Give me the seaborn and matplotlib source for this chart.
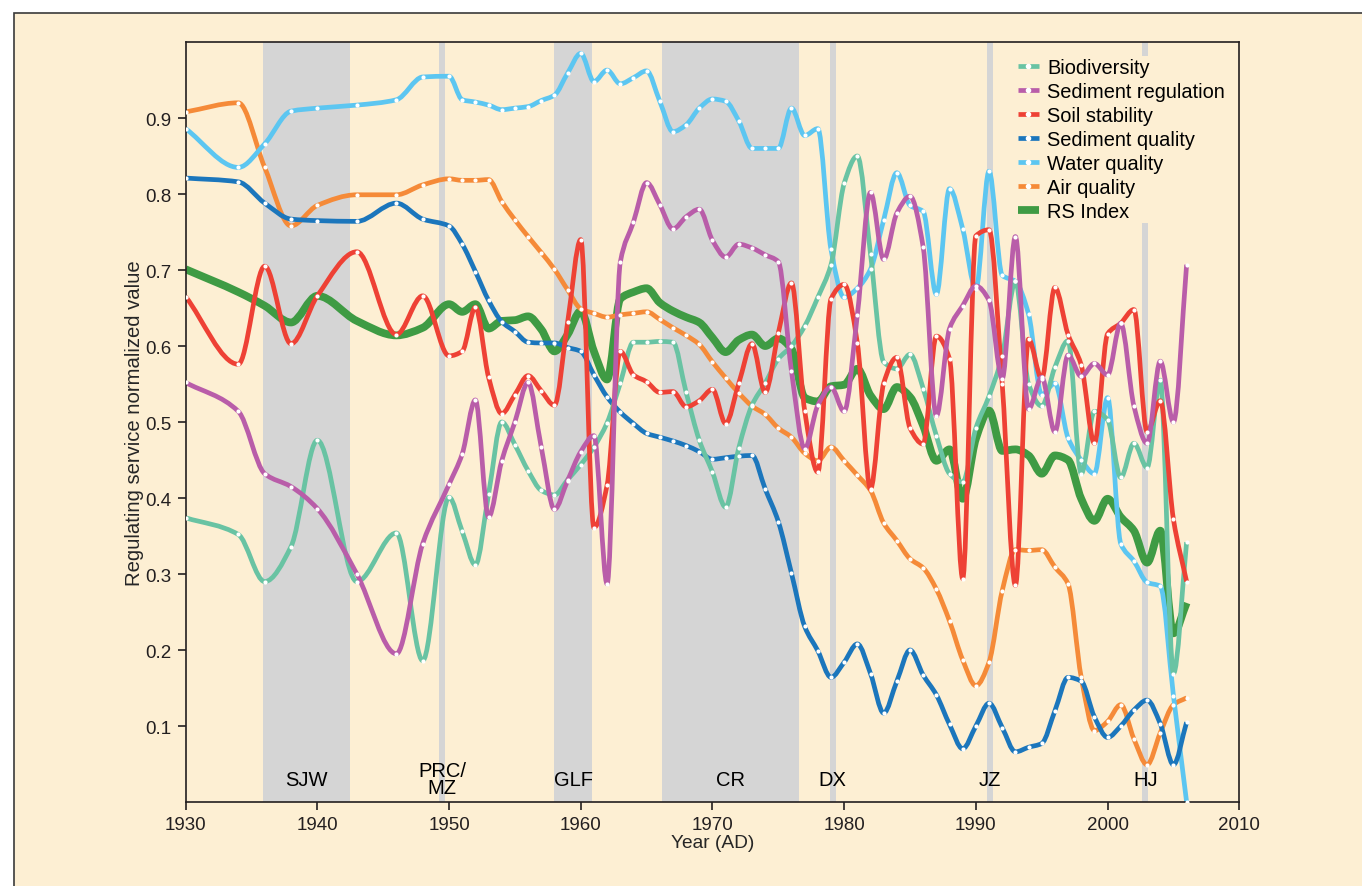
import numpy as np
import pandas as pd
import matplotlib
matplotlib.use("Agg")
import matplotlib.pyplot as plt
from matplotlib.path import Path
from matplotlib.patches import PathPatch, Rectangle
from matplotlib.lines import Line2D
import seaborn as sns

# ---- data -------------------------------------------------------------
years = [1930, 1934, 1936, 1938, 1940, 1943, 1946, 1948] + list(range(1950, 2007))

biodiversity = [
    0.374, 0.352, 0.290, 0.336, 0.476, 0.290, 0.354, 0.186,
    0.401, 0.356, 0.312, 0.405, 0.500, 0.470, 0.436, 0.410, 0.404, 0.424,
    0.444, 0.467, 0.499, 0.551, 0.605, 0.605, 0.606, 0.605, 0.539, 0.476,
    0.434, 0.388, 0.466, 0.522, 0.551, 0.583, 0.600, 0.626, 0.664, 0.707,
    0.814, 0.850, 0.721, 0.579, 0.570, 0.589, 0.544, 0.482, 0.432, 0.421,
    0.492, 0.534, 0.587, 0.685, 0.550, 0.521, 0.572, 0.607, 0.432, 0.514,
    0.503, 0.427, 0.472, 0.440, 0.555, 0.169, 0.342]

sediment_regulation = [
    0.552, 0.514, 0.432, 0.415, 0.386, 0.300, 0.195, 0.340,
    0.418, 0.458, 0.529, 0.375, 0.449, 0.500, 0.552, 0.467, 0.385, 0.423,
    0.461, 0.482, 0.287, 0.710, 0.763, 0.815, 0.786, 0.754, 0.770, 0.780,
    0.739, 0.717, 0.734, 0.729, 0.720, 0.711, 0.567, 0.465, 0.522, 0.546,
    0.514, 0.641, 0.802, 0.714, 0.775, 0.797, 0.730, 0.508, 0.623, 0.653,
    0.679, 0.660, 0.557, 0.744, 0.517, 0.559, 0.487, 0.588, 0.560, 0.577,
    0.562, 0.630, 0.521, 0.472, 0.580, 0.500, 0.707]

soil_stability = [
    0.665, 0.576, 0.705, 0.603, 0.666, 0.724, 0.615, 0.666,
    0.587, 0.593, 0.651, 0.559, 0.511, 0.536, 0.561, 0.541, 0.522, 0.631,
    0.740, 0.361, 0.417, 0.593, 0.562, 0.553, 0.539, 0.540, 0.520, 0.528,
    0.543, 0.498, 0.551, 0.603, 0.539, 0.617, 0.683, 0.515, 0.434, 0.662,
    0.681, 0.604, 0.412, 0.551, 0.585, 0.492, 0.471, 0.613, 0.583, 0.294,
    0.745, 0.753, 0.550, 0.285, 0.609, 0.557, 0.677, 0.615, 0.575, 0.472,
    0.616, 0.630, 0.648, 0.487, 0.528, 0.372, 0.290]

sediment_quality = [
    0.821, 0.816, 0.788, 0.767, 0.765, 0.764, 0.788, 0.767,
    0.758, 0.734, 0.698, 0.660, 0.632, 0.619, 0.605, 0.604, 0.604, 0.598,
    0.593, 0.562, 0.533, 0.513, 0.498, 0.485, 0.480, 0.475, 0.469, 0.461,
    0.451, 0.453, 0.455, 0.456, 0.412, 0.369, 0.301, 0.231, 0.199, 0.164,
    0.184, 0.208, 0.169, 0.117, 0.159, 0.200, 0.167, 0.141, 0.102, 0.070,
    0.100, 0.130, 0.098, 0.066, 0.072, 0.077, 0.120, 0.164, 0.159, 0.112,
    0.085, 0.100, 0.121, 0.134, 0.103, 0.049, 0.105]

water_quality = [
    0.886, 0.835, 0.866, 0.909, 0.913, 0.917, 0.924, 0.954,
    0.955, 0.924, 0.921, 0.917, 0.911, 0.913, 0.915, 0.923, 0.930, 0.959,
    0.985, 0.948, 0.963, 0.945, 0.953, 0.962, 0.922, 0.882, 0.891, 0.913,
    0.925, 0.922, 0.896, 0.860, 0.860, 0.860, 0.913, 0.877, 0.886, 0.727,
    0.664, 0.676, 0.701, 0.766, 0.828, 0.785, 0.777, 0.668, 0.807, 0.754,
    0.675, 0.830, 0.693, 0.685, 0.642, 0.536, 0.551, 0.479, 0.450, 0.432,
    0.532, 0.340, 0.317, 0.289, 0.284, 0.140, 0.000]

air_quality = [
    0.908, 0.920, 0.835, 0.758, 0.785, 0.799, 0.799, 0.812,
    0.820, 0.818, 0.818, 0.819, 0.790, 0.766, 0.744, 0.723, 0.701, 0.674,
    0.649, 0.643, 0.638, 0.641, 0.643, 0.645, 0.635, 0.624, 0.614, 0.602,
    0.579, 0.558, 0.538, 0.521, 0.510, 0.492, 0.480, 0.459, 0.449, 0.467,
    0.449, 0.430, 0.410, 0.367, 0.344, 0.320, 0.308, 0.280, 0.238, 0.187,
    0.153, 0.184, 0.278, 0.332, 0.331, 0.332, 0.309, 0.287, 0.164, 0.094,
    0.106, 0.128, 0.083, 0.049, 0.091, 0.128, 0.137]

rs_index = [
    0.701, 0.671, 0.653, 0.631, 0.666, 0.633, 0.614, 0.624,
    0.655, 0.645, 0.655, 0.623, 0.633, 0.634, 0.639, 0.622, 0.593, 0.615,
    0.646, 0.593, 0.556, 0.662, 0.671, 0.676, 0.657, 0.646, 0.638, 0.631,
    0.611, 0.592, 0.608, 0.615, 0.600, 0.610, 0.596, 0.532, 0.527, 0.547,
    0.549, 0.570, 0.535, 0.517, 0.546, 0.533, 0.495, 0.449, 0.464, 0.399,
    0.478, 0.515, 0.462, 0.464, 0.456, 0.432, 0.456, 0.450, 0.399, 0.370,
    0.399, 0.375, 0.357, 0.315, 0.357, 0.222, 0.262]

series_names = ["Biodiversity", "Sediment regulation", "Soil stability",
                "Sediment quality", "Water quality", "Air quality", "RS Index"]
series_values = [biodiversity, sediment_regulation, soil_stability,
                 sediment_quality, water_quality, air_quality, rs_index]
series_colors = ["#69C3A3", "#B95DA9", "#EE4135", "#1B76BC",
                 "#5CC6F1", "#F58A38", "#3F9B44"]

# historical periods (start, end, label)
event_labels = ["SJW", "PRC/\nMZ", "GLF", "CR", "DX", "JZ", "HJ"]
event_starts = [1935.9, 1949.25, 1958.0, 1966.2, 1978.9, 1990.85, 2002.65]
event_ends = [1942.5, 1949.7, 1960.85, 1976.6, 1979.35, 1991.3, 2003.1]

x_ticks = list(range(1930, 2011, 10))
y_ticks = [0.1, 0.2, 0.3, 0.4, 0.5, 0.6, 0.7, 0.8, 0.9]

# ---- style ------------------------------------------------------------
cream = "#FDEFD3"
band_grey = "#D5D5D5"
ink = "#231F20"

sns.set_theme(style="ticks")
plt.rcParams["font.family"] = ["Liberation Sans", "DejaVu Sans"]
plt.rcParams["axes.edgecolor"] = ink
plt.rcParams["xtick.color"] = ink
plt.rcParams["ytick.color"] = ink
plt.rcParams["text.color"] = "black"

df = pd.DataFrame({
    "year": np.tile(years, len(series_names)),
    "value": np.concatenate(series_values),
    "series": np.repeat(series_names, len(years)),
})

fig = plt.figure(figsize=(13.62, 8.87), dpi=100)
fig.patch.set_facecolor("white")
fig.add_artist(Rectangle((14 / 1362, -0.1), 2.0, 1 - 14 / 887 + 0.1,
                         transform=fig.transFigure, facecolor=cream,
                         edgecolor="#3A3A3A", linewidth=1.2, zorder=-10))

ax = fig.add_axes([0.1363, 0.0947, 0.7736, 0.8568])
ax.set_facecolor(cream)


def smooth_curve(x, y):
    """Shape-preserving cubic (Fritsch-Carlson) Bezier path through the points."""
    x = np.asarray(x, float)
    y = np.asarray(y, float)
    n = len(x)
    h = np.diff(x)
    d = np.diff(y) / h
    m = np.zeros(n)
    for k in range(1, n - 1):
        if d[k - 1] * d[k] > 0:
            w1 = 2 * h[k] + h[k - 1]
            w2 = h[k] + 2 * h[k - 1]
            m[k] = (w1 + w2) / (w1 / d[k - 1] + w2 / d[k])
    m[0] = d[0]
    m[-1] = d[-1]
    verts = [(x[0], y[0])]
    codes = [Path.MOVETO]
    for i in range(n - 1):
        verts += [(x[i] + h[i] / 3, y[i] + m[i] * h[i] / 3),
                  (x[i + 1] - h[i] / 3, y[i + 1] - m[i + 1] * h[i] / 3),
                  (x[i + 1], y[i + 1])]
        codes += [Path.CURVE4] * 3
    return Path(verts, codes)


# shaded periods and their labels
for s, e, lab in zip(event_starts, event_ends, event_labels):
    ax.axvspan(s, e, color=band_grey, lw=0, zorder=0.5)
    ax.text((s + e) / 2, 0.03, lab, ha="center", va="center",
            fontsize=14.5, linespacing=0.85, zorder=1)

# RS index underneath, services on top
draw_order = [6, 5, 4, 3, 0, 2, 1]
for k, idx in enumerate(draw_order):
    name = series_names[idx]
    lw = 5.6 if name == "RS Index" else 3.4
    sub = df[df.series == name]
    patch = PathPatch(smooth_curve(sub.year.values, sub.value.values),
                      facecolor="none", edgecolor=series_colors[idx],
                      lw=lw, capstyle="butt", joinstyle="round", zorder=2 + k * 0.01)
    ax.add_patch(patch)

# white markers at the observed years of each service
sns.scatterplot(data=df[df.series != "RS Index"], x="year", y="value",
                color="white", s=9, linewidth=0, legend=False, ax=ax, zorder=3)

ax.set_xlim(1930, 2010)
ax.set_ylim(0, 1.0)
ax.set_xticks(x_ticks)
ax.set_yticks(y_ticks)
ax.set_yticklabels([f"{v:.1f}" for v in y_ticks])
ax.tick_params(direction="out", length=6, width=1.2, labelsize=13.5,
               top=False, right=False, pad=4)
for sp in ax.spines.values():
    sp.set_visible(True)
    sp.set_color(ink)
    sp.set_linewidth(1.2)
ax.set_xlabel("Year (AD)", fontsize=13.8, labelpad=1)
ax.set_ylabel("Regulating service normalized value", fontsize=14.6, labelpad=1)
ax.grid(False)

handles = []
for name, col in zip(series_names, series_colors):
    if name == "RS Index":
        handles.append(Line2D([0], [0], color=col, lw=5.6, solid_capstyle="butt"))
    else:
        handles.append(Line2D([0], [0], color=col, lw=3.4, marker="o",
                              markersize=3, markerfacecolor="white",
                              markeredgecolor="white", solid_capstyle="butt"))
leg = ax.legend(handles, series_names, loc="upper left",
                bbox_to_anchor=(0.788, 0.981), frameon=True, facecolor=cream,
                edgecolor="none", framealpha=1, fontsize=14.4, handlelength=1.05,
                handletextpad=0.4, labelspacing=0.25, borderpad=0.1,
                borderaxespad=0)
leg.set_zorder(10)

fig.savefig("out.png", dpi=100, facecolor=fig.get_facecolor())
